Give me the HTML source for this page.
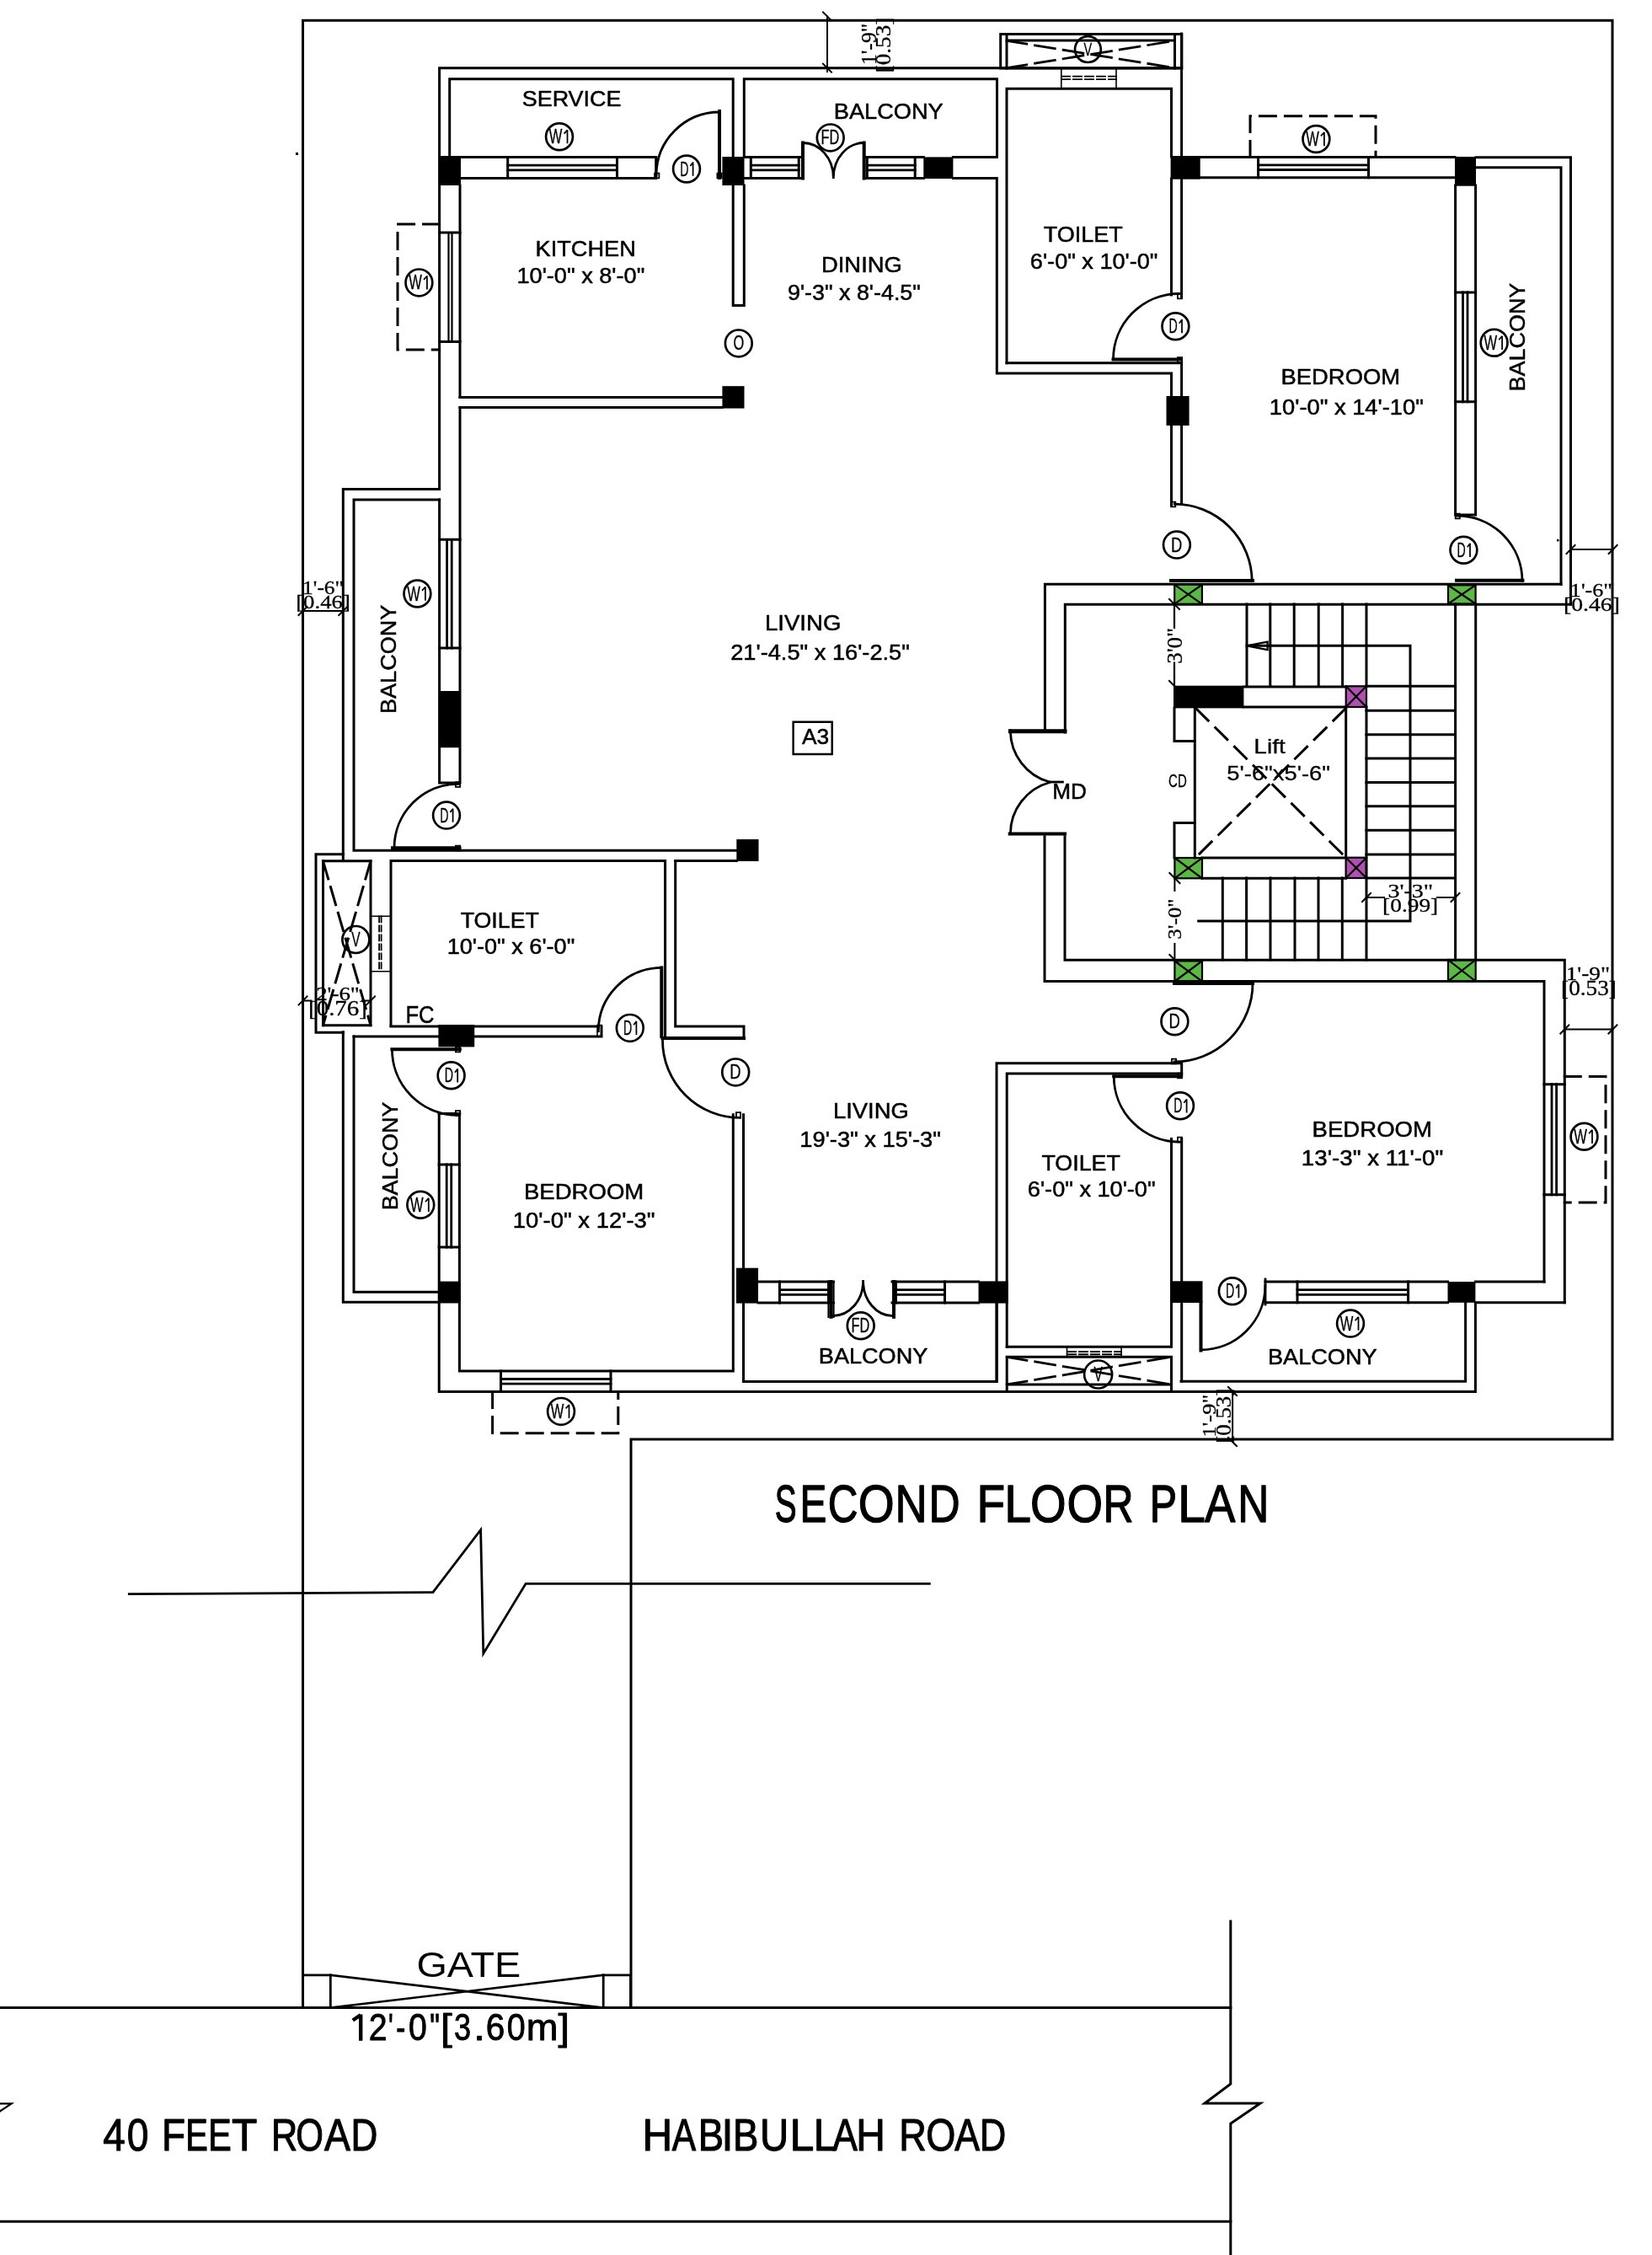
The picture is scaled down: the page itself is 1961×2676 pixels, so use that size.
<!DOCTYPE html>
<html><head><meta charset="utf-8"><style>
html,body{margin:0;padding:0;background:#fff;}
svg{display:block;will-change:transform;}
</style></head><body>
<svg xmlns="http://www.w3.org/2000/svg" width="1961" height="2676" viewBox="0 0 1961 2676">
<rect width="1961" height="2676" fill="#fff"/>
<g fill="none" stroke="#000" stroke-linecap="square" stroke-linejoin="miter">
<path d="M359.5,2382.6V24.2H1914V1708H749V2382.6" stroke-width="3.0"/>
<path d="M0,2382.6H1460.8M0,2636.2H1460.8" stroke-width="3.0"/>
<path d="M1460.8,2280V2473L1430,2496H1496L1460.8,2520V2676" stroke-width="3.0"/>
<path d="M0,2496.3H13.6L0,2505.4" stroke-width="2.2"/>
<path d="M359.6,2343.8H392.3V2382.6H359.6Z" stroke-width="2.8"/>
<path d="M716.2,2343.8H748.5V2382.6H716.2Z" stroke-width="2.8"/>
<path d="M392.3,2343.8L716.2,2382.6M392.3,2382.6L716.2,2343.8" stroke-width="2.6"/>
<path d="M153.3,1891.7L513.9,1889.6L570.6,1815.5L573.8,1962.2L624.1,1879.3H1103.3" stroke-width="2.8"/>
<path d="M521.6,580.5V80.7H1402.6" stroke-width="3.0"/>
<path d="M1187.7,40.4H1402.8V80.9H1187.7Z" stroke-width="3.0"/>
<path d="M1195,40.4V80.9M1394.5,40.4V80.9M1195,48.1H1394.5" stroke-width="3.0"/>
<path d="M1195,48.4L1394.5,80.6M1195,80.6L1394.5,48.4" stroke-width="2.8" stroke-dasharray="24 10"/>
<circle cx="1291.4" cy="58.6" r="15.4" fill="none" stroke="#000" stroke-width="2.7"/>
<text x="1286.59" y="66.45" font-size="22.82" textLength="9.63" lengthAdjust="spacingAndGlyphs" font-family="&quot;Liberation Sans&quot;, sans-serif" fill="#000" stroke="#000" stroke-width="0.30" stroke-linejoin="round">V</text>
<path d="M1259.8,80.7V105.3M1325,80.7V105.3" stroke-width="1.6"/>
<path d="M1260,90.6H1325M1260,94.1H1325" stroke-width="1.9" stroke-dasharray="10 4"/>
<path d="M533.7,186.4V93.7H870.2V186.4" stroke-width="3.0"/>
<path d="M883.3,186.4V93.7H1183.5V186.4" stroke-width="3.0"/>
<path d="M870.2,220V362.5H883.3V220" stroke-width="3.0"/>
<path d="M547,186.4H778.7V211.4H547" stroke-width="3.0"/>
<path d="M602.7,186.4V211.4M732.5,186.4V211.4" stroke-width="3.0"/>
<path d="M602.7,196.2H732.5M602.7,201.9H732.5" stroke-width="2.8"/>
<path d="M777.1,205.7H782.4V211.3H777.1Z" stroke-width="1.8"/>
<path d="M854,132V211" stroke-width="4"/>
<path d="M854,133A75,75 0 0 0 779,208" stroke-width="2.8"/>
<path d="M851.4,205.7H856.6V211.3H851.4Z" stroke-width="1.8"/>
<circle cx="815" cy="200.5" r="15.9" fill="none" stroke="#000" stroke-width="2.7"/>
<text x="807.19" y="208.50" font-size="23.26" textLength="10.24" lengthAdjust="spacingAndGlyphs" font-family="&quot;Liberation Sans&quot;, sans-serif" fill="#000" stroke="#000" stroke-width="0.30" stroke-linejoin="round">D</text>
<path d="M822.60,192.35V208.65M822.60,192.65L819.40,196.95" stroke-width="1.75" stroke-linecap="butt"/>
<circle cx="664" cy="162.2" r="15.9" fill="none" stroke="#000" stroke-width="2.7"/>
<text x="651.78" y="170.20" font-size="23.26" textLength="15.63" lengthAdjust="spacingAndGlyphs" font-family="&quot;Liberation Sans&quot;, sans-serif" fill="#000" stroke="#000" stroke-width="0.30" stroke-linejoin="round">W</text>
<path d="M673.50,154.05V170.35M673.50,154.35L669.60,158.65" stroke-width="1.75" stroke-linecap="butt"/>
<path d="M883.5,186.4H953M883.5,211.4H953" stroke-width="3.0"/>
<path d="M891.3,186.4V211.4M948.2,186.4V211.4" stroke-width="3.0"/>
<path d="M891.3,196.2H948.2M891.3,201.9H948.2" stroke-width="2.8"/>
<path d="M953,169.5V211.4M1025.7,169.5V211.4" stroke-width="4"/>
<path d="M953,169.5A36.3,41.2 0 0 1 989.3,210.7M1025.7,169.5A36.4,41.2 0 0 0 989.3,210.7" stroke-width="2.8"/>
<path d="M1025.7,186.4H1096.3M1025.7,211.4H1096.3" stroke-width="3.0"/>
<path d="M1029.3,186.4V211.4M1086.2,186.4V211.4" stroke-width="3.0"/>
<path d="M1029.3,196.2H1086.2M1029.3,201.9H1086.2" stroke-width="2.8"/>
<path d="M1131.4,186.4H1183.5" stroke-width="3.0"/>
<path d="M1131.4,211.4H1183.3V443H1390.5V600" stroke-width="3.0"/>
<circle cx="985.7" cy="163.4" r="15.9" fill="none" stroke="#000" stroke-width="2.7"/>
<text x="974.56" y="171.40" font-size="23.26" textLength="21.72" lengthAdjust="spacingAndGlyphs" font-family="&quot;Liberation Sans&quot;, sans-serif" fill="#000" stroke="#000" stroke-width="0.30" stroke-linejoin="round">FD</text>
<path d="M1195,430.8V105.3H1390.5V186" stroke-width="3.0"/>
<path d="M1390.5,212V350M1402.6,212V353.5" stroke-width="3.0"/>
<path d="M1402.6,40V186" stroke-width="3.0"/>
<path d="M1195,430.8H1402.6V597" stroke-width="3.0"/>
<path d="M1321.5,426.5H1401.5" stroke-width="4"/>
<path d="M1321.5,426.5A78,78 0 0 1 1399.5,348.5" stroke-width="2.8"/>
<path d="M1397.9,348.7H1403.1V354.3H1397.9Z" stroke-width="1.8"/>
<path d="M1397.9,424.2H1403.1V429.8H1397.9Z" stroke-width="1.8"/>
<circle cx="1395.4" cy="387.2" r="15.9" fill="none" stroke="#000" stroke-width="2.7"/>
<text x="1387.59" y="395.20" font-size="23.26" textLength="10.24" lengthAdjust="spacingAndGlyphs" font-family="&quot;Liberation Sans&quot;, sans-serif" fill="#000" stroke="#000" stroke-width="0.30" stroke-linejoin="round">D</text>
<path d="M1403.00,379.05V395.35M1403.00,379.35L1399.80,383.65" stroke-width="1.75" stroke-linecap="butt"/>
<text x="1238.65" y="287.35" font-size="25.87" textLength="94.12" lengthAdjust="spacingAndGlyphs" font-family="&quot;Liberation Sans&quot;, sans-serif" fill="#000" stroke="#000" stroke-width="0.50" stroke-linejoin="round">TOILET</text>
<text x="1222.87" y="318.75" font-size="25.87" textLength="151.63" lengthAdjust="spacingAndGlyphs" font-family="&quot;Liberation Sans&quot;, sans-serif" fill="#000" stroke="#000" stroke-width="0.50" stroke-linejoin="round">6'-0&quot; x 10'-0&quot;</text>
<path d="M546,220V471.5" stroke-width="3.0"/>
<path d="M521.6,276H546M521.6,405.4H546" stroke-width="3.0"/>
<path d="M532.5,276V405.4M536.5,276V405.4" stroke-width="2.2"/>
<path d="M521.6,266H472V415.1H521.6" stroke-width="3" stroke-dasharray="19 11"/>
<circle cx="497.4" cy="335.4" r="15.9" fill="none" stroke="#000" stroke-width="2.7"/>
<text x="485.18" y="343.40" font-size="23.26" textLength="15.63" lengthAdjust="spacingAndGlyphs" font-family="&quot;Liberation Sans&quot;, sans-serif" fill="#000" stroke="#000" stroke-width="0.30" stroke-linejoin="round">W</text>
<path d="M506.90,327.25V343.55M506.90,327.55L503.00,331.85" stroke-width="1.75" stroke-linecap="butt"/>
<path d="M546,471.5H857.4M546,483.6H857.4" stroke-width="3.0"/>
<circle cx="876.8" cy="407.4" r="15.9" fill="none" stroke="#000" stroke-width="2.7"/>
<text x="870.42" y="415.40" font-size="23.26" textLength="12.76" lengthAdjust="spacingAndGlyphs" font-family="&quot;Liberation Sans&quot;, sans-serif" fill="#000" stroke="#000" stroke-width="0.30" stroke-linejoin="round">O</text>
<rect x="521.6" y="185" width="25.4" height="35" fill="#000" stroke="none"/>
<rect x="857.4" y="186" width="26.1" height="34" fill="#000" stroke="none"/>
<rect x="1096.3" y="186.4" width="35.1" height="25.6" fill="#000" stroke="none"/>
<rect x="1389.6" y="185" width="35.1" height="27.7" fill="#000" stroke="none"/>
<rect x="1727" y="186" width="25" height="34.7" fill="#000" stroke="none"/>
<rect x="857.4" y="458.2" width="26.1" height="26.4" fill="#000" stroke="none"/>
<rect x="1384.5" y="470" width="27.1" height="35" fill="#000" stroke="none"/>
<text x="619.73" y="125.75" font-size="25.87" textLength="117.77" lengthAdjust="spacingAndGlyphs" font-family="&quot;Liberation Sans&quot;, sans-serif" fill="#000" stroke="#000" stroke-width="0.50" stroke-linejoin="round">SERVICE</text>
<text x="989.82" y="141.35" font-size="25.87" textLength="129.93" lengthAdjust="spacingAndGlyphs" font-family="&quot;Liberation Sans&quot;, sans-serif" fill="#000" stroke="#000" stroke-width="0.50" stroke-linejoin="round">BALCONY</text>
<text x="635.62" y="304.15" font-size="25.87" textLength="119.24" lengthAdjust="spacingAndGlyphs" font-family="&quot;Liberation Sans&quot;, sans-serif" fill="#000" stroke="#000" stroke-width="0.50" stroke-linejoin="round">KITCHEN</text>
<text x="613.48" y="336.35" font-size="25.87" textLength="151.82" lengthAdjust="spacingAndGlyphs" font-family="&quot;Liberation Sans&quot;, sans-serif" fill="#000" stroke="#000" stroke-width="0.50" stroke-linejoin="round">10'-0&quot; x 8'-0&quot;</text>
<text x="975.00" y="322.75" font-size="25.87" textLength="95.79" lengthAdjust="spacingAndGlyphs" font-family="&quot;Liberation Sans&quot;, sans-serif" fill="#000" stroke="#000" stroke-width="0.50" stroke-linejoin="round">DINING</text>
<text x="934.99" y="355.75" font-size="25.87" textLength="157.90" lengthAdjust="spacingAndGlyphs" font-family="&quot;Liberation Sans&quot;, sans-serif" fill="#000" stroke="#000" stroke-width="0.50" stroke-linejoin="round">9'-3&quot; x 8'-4.5&quot;</text>
<path d="M1424.7,186.4H1727M1424.7,210.7H1727" stroke-width="3.0"/>
<path d="M1493.6,186.4V210.7M1624.5,186.4V210.7" stroke-width="3.0"/>
<path d="M1493.6,195.9H1624.5M1493.6,201.5H1624.5" stroke-width="2.8"/>
<path d="M1484,186.4V137.8H1633V186.4" stroke-width="3" stroke-dasharray="19 11"/>
<circle cx="1562.4" cy="165" r="15.9" fill="none" stroke="#000" stroke-width="2.7"/>
<text x="1550.18" y="173.00" font-size="23.26" textLength="15.63" lengthAdjust="spacingAndGlyphs" font-family="&quot;Liberation Sans&quot;, sans-serif" fill="#000" stroke="#000" stroke-width="0.30" stroke-linejoin="round">W</text>
<path d="M1571.90,156.85V173.15M1571.90,157.15L1568.00,161.45" stroke-width="1.75" stroke-linecap="butt"/>
<path d="M1752,186.7H1864.5V717" stroke-width="3.0"/>
<path d="M1752,198.7H1853V693.5" stroke-width="3.0"/>
<path d="M1727.6,220V611M1751.6,220V611H1727.6" stroke-width="3.0"/>
<path d="M1727.6,347H1751.6M1727.6,476.8H1751.6" stroke-width="3.0"/>
<path d="M1736.5,347V476.8M1742.0,347V476.8" stroke-width="2.8"/>
<circle cx="1773.6" cy="406.8" r="15.9" fill="none" stroke="#000" stroke-width="2.7"/>
<text x="1761.38" y="414.80" font-size="23.26" textLength="15.63" lengthAdjust="spacingAndGlyphs" font-family="&quot;Liberation Sans&quot;, sans-serif" fill="#000" stroke="#000" stroke-width="0.30" stroke-linejoin="round">W</text>
<path d="M1783.10,398.65V414.95M1783.10,398.95L1779.20,403.25" stroke-width="1.75" stroke-linecap="butt"/>
<text transform="translate(1809.75,462.35) rotate(-90)" x="-2.21" y="0" font-size="26.60" textLength="128.91" lengthAdjust="spacingAndGlyphs" font-family="&quot;Liberation Sans&quot;, sans-serif" fill="#000" stroke="#000" stroke-width="0.50" stroke-linejoin="round">BALCONY</text>
<text x="1520.61" y="456.35" font-size="25.87" textLength="141.39" lengthAdjust="spacingAndGlyphs" font-family="&quot;Liberation Sans&quot;, sans-serif" fill="#000" stroke="#000" stroke-width="0.50" stroke-linejoin="round">BEDROOM</text>
<text x="1506.87" y="491.75" font-size="25.87" textLength="183.04" lengthAdjust="spacingAndGlyphs" font-family="&quot;Liberation Sans&quot;, sans-serif" fill="#000" stroke="#000" stroke-width="0.50" stroke-linejoin="round">10'-0&quot; x 14'-10&quot;</text>
<path d="M1727.7,609.7H1732.8V615.3H1727.7Z" stroke-width="1.8"/>
<path d="M1729,688.8H1807.4" stroke-width="4"/>
<path d="M1729.5,612A77.5,77.5 0 0 1 1807,689.5" stroke-width="2.8"/>
<circle cx="1737.4" cy="652.8" r="15.9" fill="none" stroke="#000" stroke-width="2.7"/>
<text x="1729.59" y="660.80" font-size="23.26" textLength="10.24" lengthAdjust="spacingAndGlyphs" font-family="&quot;Liberation Sans&quot;, sans-serif" fill="#000" stroke="#000" stroke-width="0.30" stroke-linejoin="round">D</text>
<path d="M1745.00,644.65V660.95M1745.00,644.95L1741.80,649.25" stroke-width="1.75" stroke-linecap="butt"/>
<path d="M1864.5,651.9H1914.6" stroke-width="2"/>
<path d="M1859.5,657L1869.5,647M1909.6,657L1919.6,647" stroke-width="2"/>
<text x="1863.86" y="707.85" font-size="23.98" textLength="50.11" lengthAdjust="spacingAndGlyphs" font-family="&quot;Liberation Serif&quot;, serif" fill="#000" stroke="#000" stroke-width="0.30" stroke-linejoin="round">1'-6&quot;</text>
<text x="1856.10" y="724.85" font-size="23.98" textLength="66.80" lengthAdjust="spacingAndGlyphs" font-family="&quot;Liberation Serif&quot;, serif" fill="#000" stroke="#000" stroke-width="0.30" stroke-linejoin="round">[0.46]</text>
<path d="M1264.3,868.9V717.2H1864.5" stroke-width="3.0"/>
<path d="M1240.4,867V693.3H1853" stroke-width="3.0"/>
<path d="M1390.2,595.7H1395.3V601.3H1390.2Z" stroke-width="1.8"/>
<path d="M1390,689H1487" stroke-width="4"/>
<path d="M1394.2,598.2A92,92 0 0 1 1486.2,689.6" stroke-width="2.8"/>
<circle cx="1396.9" cy="646.6" r="15.9" fill="none" stroke="#000" stroke-width="2.7"/>
<text x="1389.94" y="654.60" font-size="23.26" textLength="13.29" lengthAdjust="spacingAndGlyphs" font-family="&quot;Liberation Sans&quot;, sans-serif" fill="#000" stroke="#000" stroke-width="0.30" stroke-linejoin="round">D</text>
<rect x="1394.2" y="693.8" width="32.7" height="23.0" fill="#5cb946" stroke="#000" stroke-width="2.2"/>
<path d="M1394.2,693.8L1426.9,716.8M1426.9,693.8L1394.2,716.8" stroke-width="2.2"/>
<rect x="1719" y="694.4" width="32.6" height="22.1" fill="#5cb946" stroke="#000" stroke-width="2.2"/>
<path d="M1719,694.4L1751.6,716.5M1751.6,694.4L1719,716.5" stroke-width="2.2"/>
<rect x="1394.4" y="1018" width="32.6" height="24.3" fill="#5cb946" stroke="#000" stroke-width="2.2"/>
<path d="M1394.4,1018L1427,1042.3M1427,1018L1394.4,1042.3" stroke-width="2.2"/>
<rect x="1394.4" y="1140.4" width="32.6" height="24.2" fill="#5cb946" stroke="#000" stroke-width="2.2"/>
<path d="M1394.4,1140.4L1427,1164.6M1427,1140.4L1394.4,1164.6" stroke-width="2.2"/>
<rect x="1719" y="1139" width="32.7" height="25.5" fill="#5cb946" stroke="#000" stroke-width="2.2"/>
<path d="M1719,1139L1751.7,1164.5M1751.7,1139L1719,1164.5" stroke-width="2.2"/>
<rect x="1597.7" y="814.3" width="24.3" height="24.7" fill="#b050b0" stroke="#000" stroke-width="2.2"/>
<path d="M1597.7,814.3L1622,839M1622,814.3L1597.7,839" stroke-width="2.2"/>
<rect x="1597.6" y="1017.7" width="24.4" height="24.3" fill="#b050b0" stroke="#000" stroke-width="2.2"/>
<path d="M1597.6,1017.7L1622,1042M1622,1017.7L1597.6,1042" stroke-width="2.2"/>
<path d="M1199.4,867.8H1264" stroke-width="5"/>
<path d="M1198.7,989.5H1264" stroke-width="4"/>
<path d="M1199.4,867A63.3,63.3 0 0 0 1245.9,928M1245.9,928.5A63.3,63.3 0 0 0 1199.4,989.5" stroke-width="2.8"/>
<path d="M1245.9,928H1261.4" stroke-width="2.8"/>
<text x="1249.30" y="948.35" font-size="25.15" textLength="40.70" lengthAdjust="spacingAndGlyphs" font-family="&quot;Liberation Sans&quot;, sans-serif" fill="#000" stroke="#000" stroke-width="0.50" stroke-linejoin="round">MD</text>
<path d="M1240,992.7V1164.6H1833V1521" stroke-width="3.0"/>
<path d="M1264,992.7V1139.2H1857.3V1545.8" stroke-width="3.0"/>
<path d="M1480,717L1480,814.3" stroke-width="3.0"/>
<path d="M1507.8,717L1507.8,814.3" stroke-width="3.0"/>
<path d="M1536.2,717L1536.2,814.3" stroke-width="3.0"/>
<path d="M1565.2,717L1565.2,814.3" stroke-width="3.0"/>
<path d="M1593.6,717L1593.6,814.3" stroke-width="3.0"/>
<path d="M1622,717L1622,814.3" stroke-width="3.0"/>
<path d="M1480,766.3H1674V1093H1422.7" stroke-width="3.0"/>
<path d="M1480,766.3L1504.6,761.6V771.2Z" stroke-width="2.2"/>
<rect x="1393" y="813.7" width="83.4" height="26.7" fill="#000" stroke="none"/>
<path d="M1476.4,815H1597.7M1476.4,839H1597.7" stroke-width="3.0"/>
<path d="M1622,814.3H1727.6" stroke-width="3.0"/>
<path d="M1597.7,839V1017.7M1622,839V1139" stroke-width="3.0"/>
<path d="M1622,843.3L1727.5,843.3" stroke-width="3.0"/>
<path d="M1622,871.7L1727.5,871.7" stroke-width="3.0"/>
<path d="M1622,900L1727.5,900" stroke-width="3.0"/>
<path d="M1622,928.4L1727.5,928.4" stroke-width="3.0"/>
<path d="M1622,956.8L1727.5,956.8" stroke-width="3.0"/>
<path d="M1622,985.3L1727.5,985.3" stroke-width="3.0"/>
<path d="M1622,1014L1727.5,1014" stroke-width="3.0"/>
<path d="M1622,1042L1727.5,1042" stroke-width="3.0"/>
<path d="M1727.6,717V1139M1751.7,717V1139" stroke-width="3.0"/>
<path d="M1418.3,840V1018" stroke-width="3.0"/>
<path d="M1394,840V879.5H1418.3" stroke-width="3.0"/>
<path d="M1394,1018V976.4H1418.3" stroke-width="3.0"/>
<path d="M1427,1018H1597.6M1427,1042.3H1597.6" stroke-width="3.0"/>
<path d="M1420,841L1597,1017M1597,841L1420,1017" stroke-width="3" stroke-dasharray="20 12"/>
<text x="1488.34" y="893.55" font-size="24.27" textLength="37.51" lengthAdjust="spacingAndGlyphs" font-family="&quot;Liberation Sans&quot;, sans-serif" fill="#000" stroke="#000" stroke-width="0.30" stroke-linejoin="round">Lift</text>
<text x="1456.35" y="926.05" font-size="24.27" textLength="122.66" lengthAdjust="spacingAndGlyphs" font-family="&quot;Liberation Sans&quot;, sans-serif" fill="#000" stroke="#000" stroke-width="0.30" stroke-linejoin="round">5'-6&quot;x5'-6&quot;</text>
<text x="1387.09" y="933.85" font-size="21.37" textLength="21.68" lengthAdjust="spacingAndGlyphs" font-family="&quot;Liberation Sans&quot;, sans-serif" fill="#000" stroke="#000" stroke-width="0.30" stroke-linejoin="round">CD</text>
<path d="M1451.3,1042L1451.3,1139" stroke-width="3.0"/>
<path d="M1479.6,1042L1479.6,1139" stroke-width="3.0"/>
<path d="M1508,1042L1508,1139" stroke-width="3.0"/>
<path d="M1537,1042L1537,1139" stroke-width="3.0"/>
<path d="M1565,1042L1565,1139" stroke-width="3.0"/>
<path d="M1593.3,1042L1593.3,1139" stroke-width="3.0"/>
<path d="M1394,717V745M1394,786.5V813.7" stroke-width="2.2"/>
<path d="M1388,711L1400,723M1388,808L1400,820" stroke-width="2"/>
<text transform="translate(1403.25,786.45) rotate(-90)" x="-1.29" y="0" font-size="25.66" textLength="42.86" lengthAdjust="spacingAndGlyphs" font-family="&quot;Liberation Serif&quot;, serif" fill="#000" stroke="#000" stroke-width="0.30" stroke-linejoin="round">3'0&quot;</text>
<path d="M1394.4,1042V1057M1394.4,1120V1139" stroke-width="2"/>
<path d="M1388.4,1036L1400.4,1048M1388.4,1133L1400.4,1145" stroke-width="2"/>
<text transform="translate(1401.65,1113.55) rotate(-90)" x="-1.20" y="0" font-size="22.14" textLength="48.15" lengthAdjust="spacingAndGlyphs" font-family="&quot;Liberation Serif&quot;, serif" fill="#000" stroke="#000" stroke-width="0.30" stroke-linejoin="round">3'-0&quot;</text>
<path d="M1622,1065H1643M1706,1065H1727.5" stroke-width="2"/>
<path d="M1617,1070L1627,1060M1722.5,1070L1732.5,1060" stroke-width="2"/>
<text x="1647.41" y="1064.85" font-size="23.52" textLength="53.77" lengthAdjust="spacingAndGlyphs" font-family="&quot;Liberation Serif&quot;, serif" fill="#000" stroke="#000" stroke-width="0.30" stroke-linejoin="round">3'-3&quot;</text>
<text x="1641.12" y="1082.35" font-size="23.98" textLength="66.06" lengthAdjust="spacingAndGlyphs" font-family="&quot;Liberation Serif&quot;, serif" fill="#000" stroke="#000" stroke-width="0.30" stroke-linejoin="round">[0.99]</text>
<path d="M1394,1167H1487" stroke-width="4"/>
<path d="M1487,1167A93,93 0 0 1 1394,1260" stroke-width="2.8"/>
<path d="M1390.9,1256.7H1396.1V1262.3H1390.9Z" stroke-width="1.8"/>
<circle cx="1394.4" cy="1212.3" r="15.9" fill="none" stroke="#000" stroke-width="2.7"/>
<text x="1387.44" y="1220.30" font-size="23.26" textLength="13.29" lengthAdjust="spacingAndGlyphs" font-family="&quot;Liberation Sans&quot;, sans-serif" fill="#000" stroke="#000" stroke-width="0.30" stroke-linejoin="round">D</text>
<path d="M521.6,580.5H407.3V1021.3" stroke-width="3.0"/>
<path d="M521.6,593H420V1009.2H874.3" stroke-width="3.0"/>
<path d="M521.6,593V929H546V483.6" stroke-width="3.0"/>
<path d="M521.6,640.3H546M521.6,769H546" stroke-width="3.0"/>
<path d="M530.6,640.3V769M536.2,640.3V769" stroke-width="2.8"/>
<rect x="521.6" y="820" width="25.4" height="67.2" fill="#000" stroke="none"/>
<circle cx="495.4" cy="704.5" r="15.9" fill="none" stroke="#000" stroke-width="2.7"/>
<text x="483.18" y="712.50" font-size="23.26" textLength="15.63" lengthAdjust="spacingAndGlyphs" font-family="&quot;Liberation Sans&quot;, sans-serif" fill="#000" stroke="#000" stroke-width="0.30" stroke-linejoin="round">W</text>
<path d="M504.90,696.35V712.65M504.90,696.65L501.00,700.95" stroke-width="1.75" stroke-linecap="butt"/>
<text transform="translate(469.55,844.75) rotate(-90)" x="-2.22" y="0" font-size="26.16" textLength="129.21" lengthAdjust="spacingAndGlyphs" font-family="&quot;Liberation Sans&quot;, sans-serif" fill="#000" stroke="#000" stroke-width="0.50" stroke-linejoin="round">BALCONY</text>
<path d="M466,1006.3H545.5" stroke-width="4"/>
<path d="M544,930.3A76,76 0 0 0 468,1006.3" stroke-width="2.8"/>
<path d="M540.9,928.2H546.1V933.8H540.9Z" stroke-width="1.8"/>
<path d="M540.9,1003.7H546.1V1009.3H540.9Z" stroke-width="1.8"/>
<circle cx="530" cy="967.6" r="15.9" fill="none" stroke="#000" stroke-width="2.7"/>
<text x="522.19" y="975.60" font-size="23.26" textLength="10.24" lengthAdjust="spacingAndGlyphs" font-family="&quot;Liberation Sans&quot;, sans-serif" fill="#000" stroke="#000" stroke-width="0.30" stroke-linejoin="round">D</text>
<path d="M537.60,959.45V975.75M537.60,959.75L534.40,964.05" stroke-width="1.75" stroke-linecap="butt"/>
<path d="M359.5,725H407.3" stroke-width="2"/>
<path d="M354.5,730L364.5,720M402.3,730L412.3,720" stroke-width="2"/>
<text x="359.12" y="705.15" font-size="23.98" textLength="48.81" lengthAdjust="spacingAndGlyphs" font-family="&quot;Liberation Serif&quot;, serif" fill="#000" stroke="#000" stroke-width="0.30" stroke-linejoin="round">1'-6&quot;</text>
<text x="351.16" y="721.85" font-size="23.98" textLength="64.67" lengthAdjust="spacingAndGlyphs" font-family="&quot;Liberation Serif&quot;, serif" fill="#000" stroke="#000" stroke-width="0.30" stroke-linejoin="round">[0.46]</text>
<rect x="874.3" y="996" width="26.2" height="26" fill="#000" stroke="none"/>
<path d="M464,1217.3V1021.4H789.6V1230" stroke-width="3.0"/>
<path d="M801.7,1021.4H874.3" stroke-width="3.0"/>
<path d="M801.7,1021.4V1218H883V1232" stroke-width="3.0"/>
<text x="907.99" y="748.25" font-size="25.87" textLength="90.42" lengthAdjust="spacingAndGlyphs" font-family="&quot;Liberation Sans&quot;, sans-serif" fill="#000" stroke="#000" stroke-width="0.50" stroke-linejoin="round">LIVING</text>
<text x="867.18" y="782.85" font-size="25.87" textLength="212.72" lengthAdjust="spacingAndGlyphs" font-family="&quot;Liberation Sans&quot;, sans-serif" fill="#000" stroke="#000" stroke-width="0.50" stroke-linejoin="round">21'-4.5&quot; x 16'-2.5&quot;</text>
<path d="M941.6,856.7H987.7V895H941.6Z" stroke-width="2.4"/>
<text x="952.00" y="882.65" font-size="25.87" textLength="32.21" lengthAdjust="spacingAndGlyphs" font-family="&quot;Liberation Sans&quot;, sans-serif" fill="#000" stroke="#000" stroke-width="0.50" stroke-linejoin="round">A3</text>
<path d="M407.5,1013.8H375V1225.2H407.5" stroke-width="3.0"/>
<path d="M383.5,1021.8H440V1216.7H383.5Z" stroke-width="3.0"/>
<path d="M383.5,1021.8L440,1216.7M440,1021.8L383.5,1216.7" stroke-width="3" stroke-dasharray="22 10"/>
<circle cx="422.4" cy="1115" r="16" fill="none" stroke="#000" stroke-width="2.7"/>
<text x="417.23" y="1123.00" font-size="23.26" textLength="10.34" lengthAdjust="spacingAndGlyphs" font-family="&quot;Liberation Sans&quot;, sans-serif" fill="#000" stroke="#000" stroke-width="0.30" stroke-linejoin="round">V</text>
<path d="M440,1087.3H463.4M440,1152.8H463.4" stroke-width="1.6"/>
<path d="M450.1,1087.3V1152.8M452.6,1087.3V1152.8" stroke-width="1.8" stroke-dasharray="7 4"/>
<path d="M359.6,1187.4H369.5M430,1187.4H440" stroke-width="2"/>
<path d="M354.6,1192.4L364.6,1182.4M435,1192.4L445,1182.4" stroke-width="2"/>
<text x="375.17" y="1186.55" font-size="23.67" textLength="51.65" lengthAdjust="spacingAndGlyphs" font-family="&quot;Liberation Serif&quot;, serif" fill="#000" stroke="#000" stroke-width="0.30" stroke-linejoin="round">2'-6&quot;</text>
<text x="366.00" y="1204.55" font-size="24.74" textLength="70.00" lengthAdjust="spacingAndGlyphs" font-family="&quot;Liberation Serif&quot;, serif" fill="#000" stroke="#000" stroke-width="0.30" stroke-linejoin="round">[0.76]</text>
<text x="546.65" y="1100.55" font-size="25.87" textLength="93.21" lengthAdjust="spacingAndGlyphs" font-family="&quot;Liberation Sans&quot;, sans-serif" fill="#000" stroke="#000" stroke-width="0.50" stroke-linejoin="round">TOILET</text>
<text x="530.69" y="1132.05" font-size="25.87" textLength="151.62" lengthAdjust="spacingAndGlyphs" font-family="&quot;Liberation Sans&quot;, sans-serif" fill="#000" stroke="#000" stroke-width="0.50" stroke-linejoin="round">10'-0&quot; x 6'-0&quot;</text>
<path d="M464,1218H710.5M420,1230H714V1218" stroke-width="3.0"/>
<path d="M785.3,1148.4V1230" stroke-width="4"/>
<path d="M785.3,1148.4A75,75 0 0 0 710.3,1223.5" stroke-width="2.8"/>
<path d="M709,1216.5H714V1230H709Z" stroke-width="1.6"/>
<circle cx="747.8" cy="1219.9" r="15.9" fill="none" stroke="#000" stroke-width="2.7"/>
<text x="739.99" y="1227.90" font-size="23.26" textLength="10.24" lengthAdjust="spacingAndGlyphs" font-family="&quot;Liberation Sans&quot;, sans-serif" fill="#000" stroke="#000" stroke-width="0.30" stroke-linejoin="round">D</text>
<path d="M755.40,1211.75V1228.05M755.40,1212.05L752.20,1216.35" stroke-width="1.75" stroke-linecap="butt"/>
<path d="M786.5,1232H883" stroke-width="4"/>
<path d="M786.5,1234.4A92,92 0 0 0 878.5,1326.4" stroke-width="2.8"/>
<path d="M873.9,1320.2H879.1V1325.8H873.9Z" stroke-width="1.8"/>
<circle cx="873.2" cy="1272.4" r="15.9" fill="none" stroke="#000" stroke-width="2.7"/>
<text x="866.24" y="1280.40" font-size="23.26" textLength="13.29" lengthAdjust="spacingAndGlyphs" font-family="&quot;Liberation Sans&quot;, sans-serif" fill="#000" stroke="#000" stroke-width="0.30" stroke-linejoin="round">D</text>
<rect x="520.4" y="1216" width="42.8" height="26.4" fill="#000" stroke="none"/>
<text x="481.45" y="1214.05" font-size="29.80" textLength="34.07" lengthAdjust="spacingAndGlyphs" font-family="&quot;Liberation Sans&quot;, sans-serif" fill="#000" stroke="#000" stroke-width="0.50" stroke-linejoin="round">FC</text>
<path d="M407.3,1224.7V1545.3H521.2" stroke-width="3.0"/>
<path d="M420,1230V1533.2H521.2" stroke-width="3.0"/>
<path d="M521.2,1321.5V1651.4H1751.4V1545.8" stroke-width="3.0"/>
<path d="M545.4,1321.5V1627H870.3V1322.8" stroke-width="3.0"/>
<path d="M521.2,1321.5H545.8" stroke-width="3.0"/>
<path d="M521.2,1382H545.4M521.2,1480H545.4" stroke-width="3.0"/>
<path d="M530.2,1382V1480M535.7,1382V1480" stroke-width="2.8"/>
<rect x="521" y="1520.6" width="25.6" height="25.9" fill="#000" stroke="none"/>
<circle cx="499.3" cy="1429.8" r="15.9" fill="none" stroke="#000" stroke-width="2.7"/>
<text x="487.08" y="1437.80" font-size="23.26" textLength="15.63" lengthAdjust="spacingAndGlyphs" font-family="&quot;Liberation Sans&quot;, sans-serif" fill="#000" stroke="#000" stroke-width="0.30" stroke-linejoin="round">W</text>
<path d="M508.80,1421.65V1437.95M508.80,1421.95L504.90,1426.25" stroke-width="1.75" stroke-linecap="butt"/>
<text transform="translate(471.65,1434.15) rotate(-90)" x="-2.21" y="0" font-size="26.31" textLength="128.70" lengthAdjust="spacingAndGlyphs" font-family="&quot;Liberation Sans&quot;, sans-serif" fill="#000" stroke="#000" stroke-width="0.50" stroke-linejoin="round">BALCONY</text>
<path d="M465.4,1245.3H545.8" stroke-width="4"/>
<path d="M465.4,1245.3A78,78 0 0 0 543.4,1323.3" stroke-width="2.8"/>
<path d="M540.9,1318.2H546.1V1323.8H540.9Z" stroke-width="1.8"/>
<path d="M540.9,1242.7H546.1V1248.3H540.9Z" stroke-width="1.8"/>
<circle cx="535.6" cy="1276.3" r="15.9" fill="none" stroke="#000" stroke-width="2.7"/>
<text x="527.79" y="1284.30" font-size="23.26" textLength="10.24" lengthAdjust="spacingAndGlyphs" font-family="&quot;Liberation Sans&quot;, sans-serif" fill="#000" stroke="#000" stroke-width="0.30" stroke-linejoin="round">D</text>
<path d="M543.20,1268.15V1284.45M543.20,1268.45L540.00,1272.75" stroke-width="1.75" stroke-linecap="butt"/>
<text x="621.99" y="1422.95" font-size="25.87" textLength="142.32" lengthAdjust="spacingAndGlyphs" font-family="&quot;Liberation Sans&quot;, sans-serif" fill="#000" stroke="#000" stroke-width="0.50" stroke-linejoin="round">BEDROOM</text>
<text x="608.86" y="1456.75" font-size="25.87" textLength="168.65" lengthAdjust="spacingAndGlyphs" font-family="&quot;Liberation Sans&quot;, sans-serif" fill="#000" stroke="#000" stroke-width="0.50" stroke-linejoin="round">10'-0&quot; x 12'-3&quot;</text>
<path d="M594.5,1627V1651.4M725,1627V1651.4" stroke-width="3.0"/>
<path d="M594.5,1636.5H725M594.5,1642.1H725" stroke-width="2.8"/>
<path d="M584.6,1651.4V1700.8H733.8V1651.4" stroke-width="3" stroke-dasharray="19 11"/>
<circle cx="666" cy="1674.9" r="15.9" fill="none" stroke="#000" stroke-width="2.7"/>
<text x="653.78" y="1682.90" font-size="23.26" textLength="15.63" lengthAdjust="spacingAndGlyphs" font-family="&quot;Liberation Sans&quot;, sans-serif" fill="#000" stroke="#000" stroke-width="0.30" stroke-linejoin="round">W</text>
<path d="M675.50,1666.75V1683.05M675.50,1667.05L671.60,1671.35" stroke-width="1.75" stroke-linecap="butt"/>
<path d="M882.5,1322.8V1639.6H1183.2V1546" stroke-width="3.0"/>
<rect x="874" y="1504.7" width="26" height="41.9" fill="#000" stroke="none"/>
<path d="M900,1521H989.5M900,1545.9H989.5" stroke-width="3.0"/>
<path d="M925.4,1521V1545.9M983.5,1521V1545.9" stroke-width="3.0"/>
<path d="M925.4,1530.7H983.5M925.4,1536.4H983.5" stroke-width="2.8"/>
<path d="M983.5,1521V1562.8M989.5,1521V1562.8" stroke-width="2.2"/>
<path d="M986.5,1521V1562.8" stroke-width="4"/>
<path d="M988.3,1561.6A36.3,41.2 0 0 0 1024.6,1520.4M1059.8,1561.6A35.2,41.2 0 0 1 1024.6,1520.4" stroke-width="2.8"/>
<path d="M1061,1521V1562.8" stroke-width="4"/>
<path d="M1059,1521H1161.5M1059,1545.9H1161.5" stroke-width="3.0"/>
<path d="M1063.4,1521V1545.9M1121.5,1521V1545.9" stroke-width="3.0"/>
<path d="M1063.4,1530.7H1121.5M1063.4,1536.4H1121.5" stroke-width="2.8"/>
<rect x="1161.5" y="1520.4" width="35.1" height="26.2" fill="#000" stroke="none"/>
<circle cx="1021.7" cy="1573.2" r="15.9" fill="none" stroke="#000" stroke-width="2.7"/>
<text x="1010.56" y="1581.20" font-size="23.26" textLength="21.72" lengthAdjust="spacingAndGlyphs" font-family="&quot;Liberation Sans&quot;, sans-serif" fill="#000" stroke="#000" stroke-width="0.30" stroke-linejoin="round">FD</text>
<text x="971.83" y="1617.55" font-size="25.87" textLength="129.52" lengthAdjust="spacingAndGlyphs" font-family="&quot;Liberation Sans&quot;, sans-serif" fill="#000" stroke="#000" stroke-width="0.50" stroke-linejoin="round">BALCONY</text>
<text x="989.00" y="1327.35" font-size="25.87" textLength="89.79" lengthAdjust="spacingAndGlyphs" font-family="&quot;Liberation Sans&quot;, sans-serif" fill="#000" stroke="#000" stroke-width="0.50" stroke-linejoin="round">LIVING</text>
<text x="949.38" y="1361.25" font-size="25.87" textLength="167.53" lengthAdjust="spacingAndGlyphs" font-family="&quot;Liberation Sans&quot;, sans-serif" fill="#000" stroke="#000" stroke-width="0.50" stroke-linejoin="round">19'-3&quot; x 15'-3&quot;</text>
<path d="M1183,1639V1261.8H1402.7V1277" stroke-width="3.0"/>
<path d="M1195.2,1598.2V1273.9H1402.7" stroke-width="3.0"/>
<path d="M1195.2,1598.2H1390.5V1351.4M1402.7,1351.4V1639" stroke-width="3.0"/>
<path d="M1322.2,1277.2H1402" stroke-width="4"/>
<path d="M1322.2,1277.2A78,78 0 0 0 1400.2,1355.2" stroke-width="2.8"/>
<path d="M1397.9,1349.7H1403.1V1355.3H1397.9Z" stroke-width="1.8"/>
<path d="M1397.9,1273.7H1403.1V1279.3H1397.9Z" stroke-width="1.8"/>
<circle cx="1401" cy="1312.3" r="15.9" fill="none" stroke="#000" stroke-width="2.7"/>
<text x="1393.19" y="1320.30" font-size="23.26" textLength="10.24" lengthAdjust="spacingAndGlyphs" font-family="&quot;Liberation Sans&quot;, sans-serif" fill="#000" stroke="#000" stroke-width="0.30" stroke-linejoin="round">D</text>
<path d="M1408.60,1304.15V1320.45M1408.60,1304.45L1405.40,1308.75" stroke-width="1.75" stroke-linecap="butt"/>
<text x="1236.45" y="1388.75" font-size="25.87" textLength="93.41" lengthAdjust="spacingAndGlyphs" font-family="&quot;Liberation Sans&quot;, sans-serif" fill="#000" stroke="#000" stroke-width="0.50" stroke-linejoin="round">TOILET</text>
<text x="1219.87" y="1420.15" font-size="25.87" textLength="151.73" lengthAdjust="spacingAndGlyphs" font-family="&quot;Liberation Sans&quot;, sans-serif" fill="#000" stroke="#000" stroke-width="0.50" stroke-linejoin="round">6'-0&quot; x 10'-0&quot;</text>
<rect x="1390.5" y="1520.3" width="37.0" height="25.7" fill="#000" stroke="none"/>
<path d="M1195.2,1649.5V1610.3H1390.5V1649.5M1195.2,1643H1390.5" stroke-width="3.0"/>
<path d="M1195.2,1610.3L1390.5,1643M1195.2,1643L1390.5,1610.3" stroke-width="2.8" stroke-dasharray="24 10"/>
<circle cx="1303.6" cy="1631" r="16.5" fill="none" stroke="#000" stroke-width="2.7"/>
<text x="1298.43" y="1639.00" font-size="23.26" textLength="10.34" lengthAdjust="spacingAndGlyphs" font-family="&quot;Liberation Sans&quot;, sans-serif" fill="#000" stroke="#000" stroke-width="0.30" stroke-linejoin="round">V</text>
<path d="M1266.5,1599.7V1608.2M1331.1,1599.7V1608.2" stroke-width="1.6"/>
<path d="M1267,1604H1331M1267,1607.2H1331" stroke-width="1.9" stroke-dasharray="10 4"/>
<path d="M1463.1,1651.2V1711" stroke-width="2"/>
<path d="M1458,1646L1468,1656M1458,1706L1468,1716" stroke-width="2"/>
<text transform="translate(1443.45,1703.35) rotate(-90)" x="-2.33" y="0" font-size="23.67" textLength="50.87" lengthAdjust="spacingAndGlyphs" font-family="&quot;Liberation Serif&quot;, serif" fill="#000" stroke="#000" stroke-width="0.30" stroke-linejoin="round">1'-9&quot;</text>
<text transform="translate(1461.35,1710.85) rotate(-90)" x="-2.00" y="0" font-size="24.59" textLength="65.21" lengthAdjust="spacingAndGlyphs" font-family="&quot;Liberation Serif&quot;, serif" fill="#000" stroke="#000" stroke-width="0.30" stroke-linejoin="round">[0.53]</text>
<path d="M1502,1521H1718.5M1502,1545.8H1718.5" stroke-width="3.0"/>
<path d="M1502,1518V1548" stroke-width="2.8"/>
<path d="M1540,1521V1545.8M1671.6,1521V1545.8" stroke-width="3.0"/>
<path d="M1540,1530.7H1671.6M1540,1536.4H1671.6" stroke-width="2.8"/>
<rect x="1718.5" y="1521" width="32.9" height="24.8" fill="#000" stroke="none"/>
<path d="M1751.4,1521H1833M1751.4,1545.8H1857.3" stroke-width="3.0"/>
<path d="M1833,1286.7H1857.3M1833,1417.8H1857.3" stroke-width="3.0"/>
<path d="M1842.0,1286.7V1417.8M1847.6,1286.7V1417.8" stroke-width="2.8"/>
<path d="M1857.3,1277.5H1906V1427H1857.3" stroke-width="3" stroke-dasharray="19 11"/>
<circle cx="1880.5" cy="1348.8" r="15.9" fill="none" stroke="#000" stroke-width="2.7"/>
<text x="1868.28" y="1356.80" font-size="23.26" textLength="15.63" lengthAdjust="spacingAndGlyphs" font-family="&quot;Liberation Sans&quot;, sans-serif" fill="#000" stroke="#000" stroke-width="0.30" stroke-linejoin="round">W</text>
<path d="M1890.00,1340.65V1356.95M1890.00,1340.95L1886.10,1345.25" stroke-width="1.75" stroke-linecap="butt"/>
<text x="1557.59" y="1349.25" font-size="25.87" textLength="142.42" lengthAdjust="spacingAndGlyphs" font-family="&quot;Liberation Sans&quot;, sans-serif" fill="#000" stroke="#000" stroke-width="0.50" stroke-linejoin="round">BEDROOM</text>
<text x="1544.86" y="1383.25" font-size="25.87" textLength="168.45" lengthAdjust="spacingAndGlyphs" font-family="&quot;Liberation Sans&quot;, sans-serif" fill="#000" stroke="#000" stroke-width="0.50" stroke-linejoin="round">13'-3&quot; x 11'-0&quot;</text>
<path d="M1425.5,1546V1602.5" stroke-width="4"/>
<path d="M1425.5,1601.8A76.4,76.4 0 0 0 1501.9,1525.4" stroke-width="2.8"/>
<circle cx="1462.8" cy="1532.2" r="15.9" fill="none" stroke="#000" stroke-width="2.7"/>
<text x="1454.99" y="1540.20" font-size="23.26" textLength="10.24" lengthAdjust="spacingAndGlyphs" font-family="&quot;Liberation Sans&quot;, sans-serif" fill="#000" stroke="#000" stroke-width="0.30" stroke-linejoin="round">D</text>
<path d="M1470.40,1524.05V1540.35M1470.40,1524.35L1467.20,1528.65" stroke-width="1.75" stroke-linecap="butt"/>
<path d="M1402,1639.2H1739.6V1545.8" stroke-width="3.0"/>
<circle cx="1603" cy="1570.6" r="15.9" fill="none" stroke="#000" stroke-width="2.7"/>
<text x="1590.78" y="1578.60" font-size="23.26" textLength="15.63" lengthAdjust="spacingAndGlyphs" font-family="&quot;Liberation Sans&quot;, sans-serif" fill="#000" stroke="#000" stroke-width="0.30" stroke-linejoin="round">W</text>
<path d="M1612.50,1562.45V1578.75M1612.50,1562.75L1608.60,1567.05" stroke-width="1.75" stroke-linecap="butt"/>
<text x="1505.03" y="1618.55" font-size="25.87" textLength="129.62" lengthAdjust="spacingAndGlyphs" font-family="&quot;Liberation Sans&quot;, sans-serif" fill="#000" stroke="#000" stroke-width="0.50" stroke-linejoin="round">BALCONY</text>
<path d="M1857.3,1221.5H1914.4" stroke-width="2"/>
<path d="M1852.3,1226.5L1862.3,1216.5M1909.4,1226.5L1919.4,1216.5" stroke-width="2"/>
<text x="1858.76" y="1163.05" font-size="23.98" textLength="52.28" lengthAdjust="spacingAndGlyphs" font-family="&quot;Liberation Serif&quot;, serif" fill="#000" stroke="#000" stroke-width="0.30" stroke-linejoin="round">1'-9&quot;</text>
<text x="1853.13" y="1180.55" font-size="24.44" textLength="65.74" lengthAdjust="spacingAndGlyphs" font-family="&quot;Liberation Serif&quot;, serif" fill="#000" stroke="#000" stroke-width="0.30" stroke-linejoin="round">[0.53]</text>
<path d="M982,19.4V85" stroke-width="2"/>
<path d="M977,14.4L987,24.4M977,75.7L987,85.7" stroke-width="2"/>
<text transform="translate(1039.65,74.85) rotate(-90)" x="-2.26" y="0" font-size="24.74" textLength="49.35" lengthAdjust="spacingAndGlyphs" font-family="&quot;Liberation Serif&quot;, serif" fill="#000" stroke="#000" stroke-width="0.30" stroke-linejoin="round">1'-9&quot;</text>
<text transform="translate(1056.75,84.35) rotate(-90)" x="-2.02" y="0" font-size="25.05" textLength="65.74" lengthAdjust="spacingAndGlyphs" font-family="&quot;Liberation Serif&quot;, serif" fill="#000" stroke="#000" stroke-width="0.30" stroke-linejoin="round">[0.53]</text>
<rect x="351" y="181" width="3" height="3" fill="#000" stroke="none"/>
<rect x="1848" y="640" width="2.5" height="2.5" fill="#000" stroke="none"/>
<text x="919.79" y="1806.05" font-size="63.52" textLength="25.84" lengthAdjust="spacingAndGlyphs" font-family="&quot;Liberation Sans&quot;, sans-serif" fill="#000" stroke="#000" stroke-width="1.30" stroke-linejoin="round">S</text>
<text x="949.43" y="1806.05" font-size="63.52" textLength="31.87" lengthAdjust="spacingAndGlyphs" font-family="&quot;Liberation Sans&quot;, sans-serif" fill="#000" stroke="#000" stroke-width="1.30" stroke-linejoin="round">E</text>
<text x="982.64" y="1806.05" font-size="63.52" textLength="35.69" lengthAdjust="spacingAndGlyphs" font-family="&quot;Liberation Sans&quot;, sans-serif" fill="#000" stroke="#000" stroke-width="1.30" stroke-linejoin="round">C</text>
<text x="1018.83" y="1806.05" font-size="63.52" textLength="42.96" lengthAdjust="spacingAndGlyphs" font-family="&quot;Liberation Sans&quot;, sans-serif" fill="#000" stroke="#000" stroke-width="1.30" stroke-linejoin="round">O</text>
<text x="1062.52" y="1806.05" font-size="63.52" textLength="38.14" lengthAdjust="spacingAndGlyphs" font-family="&quot;Liberation Sans&quot;, sans-serif" fill="#000" stroke="#000" stroke-width="1.30" stroke-linejoin="round">N</text>
<text x="1102.53" y="1806.05" font-size="63.52" textLength="37.19" lengthAdjust="spacingAndGlyphs" font-family="&quot;Liberation Sans&quot;, sans-serif" fill="#000" stroke="#000" stroke-width="1.30" stroke-linejoin="round">D</text>
<text x="1159.44" y="1806.05" font-size="63.52" textLength="33.62" lengthAdjust="spacingAndGlyphs" font-family="&quot;Liberation Sans&quot;, sans-serif" fill="#000" stroke="#000" stroke-width="1.30" stroke-linejoin="round">F</text>
<text x="1192.36" y="1806.05" font-size="63.52" textLength="31.79" lengthAdjust="spacingAndGlyphs" font-family="&quot;Liberation Sans&quot;, sans-serif" fill="#000" stroke="#000" stroke-width="1.30" stroke-linejoin="round">L</text>
<text x="1222.96" y="1806.05" font-size="63.52" textLength="42.62" lengthAdjust="spacingAndGlyphs" font-family="&quot;Liberation Sans&quot;, sans-serif" fill="#000" stroke="#000" stroke-width="1.30" stroke-linejoin="round">O</text>
<text x="1266.56" y="1806.05" font-size="63.52" textLength="42.62" lengthAdjust="spacingAndGlyphs" font-family="&quot;Liberation Sans&quot;, sans-serif" fill="#000" stroke="#000" stroke-width="1.30" stroke-linejoin="round">O</text>
<text x="1309.55" y="1806.05" font-size="63.52" textLength="36.12" lengthAdjust="spacingAndGlyphs" font-family="&quot;Liberation Sans&quot;, sans-serif" fill="#000" stroke="#000" stroke-width="1.30" stroke-linejoin="round">R</text>
<text x="1364.87" y="1806.05" font-size="63.52" textLength="32.33" lengthAdjust="spacingAndGlyphs" font-family="&quot;Liberation Sans&quot;, sans-serif" fill="#000" stroke="#000" stroke-width="1.30" stroke-linejoin="round">P</text>
<text x="1397.89" y="1806.05" font-size="63.52" textLength="32.92" lengthAdjust="spacingAndGlyphs" font-family="&quot;Liberation Sans&quot;, sans-serif" fill="#000" stroke="#000" stroke-width="1.30" stroke-linejoin="round">L</text>
<text x="1430.04" y="1806.05" font-size="63.52" textLength="36.41" lengthAdjust="spacingAndGlyphs" font-family="&quot;Liberation Sans&quot;, sans-serif" fill="#000" stroke="#000" stroke-width="1.30" stroke-linejoin="round">A</text>
<text x="1469.24" y="1806.05" font-size="63.52" textLength="37.10" lengthAdjust="spacingAndGlyphs" font-family="&quot;Liberation Sans&quot;, sans-serif" fill="#000" stroke="#000" stroke-width="1.30" stroke-linejoin="round">N</text>
<text x="494.41" y="2346.20" font-size="43.02" textLength="123.84" lengthAdjust="spacingAndGlyphs" font-family="&quot;Liberation Sans&quot;, sans-serif" fill="#000" stroke="none">GATE</text>
<path d="M428.2,2390.5V2421.8M428.2,2391L418.8,2397.5" stroke-width="4.4" stroke-linecap="butt"/>
<text x="437.87" y="2421.35" font-size="45.06" textLength="21.85" lengthAdjust="spacingAndGlyphs" font-family="&quot;Liberation Sans&quot;, sans-serif" fill="#000" stroke="#000" stroke-width="0.90" stroke-linejoin="round">2</text>
<text x="460.92" y="2421.35" font-size="45.06" textLength="5.74" lengthAdjust="spacingAndGlyphs" font-family="&quot;Liberation Sans&quot;, sans-serif" fill="#000" stroke="#000" stroke-width="0.90" stroke-linejoin="round">'</text>
<text x="470.28" y="2421.35" font-size="45.06" textLength="11.05" lengthAdjust="spacingAndGlyphs" font-family="&quot;Liberation Sans&quot;, sans-serif" fill="#000" stroke="#000" stroke-width="0.90" stroke-linejoin="round">-</text>
<text x="484.92" y="2421.35" font-size="45.06" textLength="21.76" lengthAdjust="spacingAndGlyphs" font-family="&quot;Liberation Sans&quot;, sans-serif" fill="#000" stroke="#000" stroke-width="0.90" stroke-linejoin="round">0</text>
<text x="510.35" y="2421.35" font-size="45.06" textLength="11.70" lengthAdjust="spacingAndGlyphs" font-family="&quot;Liberation Sans&quot;, sans-serif" fill="#000" stroke="#000" stroke-width="0.90" stroke-linejoin="round">&quot;</text>
<text x="522.93" y="2421.35" font-size="45.06" textLength="13.70" lengthAdjust="spacingAndGlyphs" font-family="&quot;Liberation Sans&quot;, sans-serif" fill="#000" stroke="#000" stroke-width="0.90" stroke-linejoin="round">[</text>
<text x="538.98" y="2421.35" font-size="45.06" textLength="20.06" lengthAdjust="spacingAndGlyphs" font-family="&quot;Liberation Sans&quot;, sans-serif" fill="#000" stroke="#000" stroke-width="0.90" stroke-linejoin="round">3</text>
<text x="561.95" y="2421.35" font-size="45.06" textLength="14.01" lengthAdjust="spacingAndGlyphs" font-family="&quot;Liberation Sans&quot;, sans-serif" fill="#000" stroke="#000" stroke-width="0.90" stroke-linejoin="round">.</text>
<text x="576.69" y="2421.35" font-size="45.06" textLength="22.54" lengthAdjust="spacingAndGlyphs" font-family="&quot;Liberation Sans&quot;, sans-serif" fill="#000" stroke="#000" stroke-width="0.90" stroke-linejoin="round">6</text>
<text x="601.71" y="2421.35" font-size="45.06" textLength="21.87" lengthAdjust="spacingAndGlyphs" font-family="&quot;Liberation Sans&quot;, sans-serif" fill="#000" stroke="#000" stroke-width="0.90" stroke-linejoin="round">0</text>
<text x="624.85" y="2421.35" font-size="45.06" textLength="37.69" lengthAdjust="spacingAndGlyphs" font-family="&quot;Liberation Sans&quot;, sans-serif" fill="#000" stroke="#000" stroke-width="0.90" stroke-linejoin="round">m</text>
<text x="662.57" y="2421.35" font-size="45.06" textLength="13.56" lengthAdjust="spacingAndGlyphs" font-family="&quot;Liberation Sans&quot;, sans-serif" fill="#000" stroke="#000" stroke-width="0.90" stroke-linejoin="round">]</text>
<text x="122.26" y="2552.15" font-size="53.05" textLength="26.49" lengthAdjust="spacingAndGlyphs" font-family="&quot;Liberation Sans&quot;, sans-serif" fill="#000" stroke="#000" stroke-width="1.10" stroke-linejoin="round">4</text>
<text x="150.75" y="2552.15" font-size="53.05" textLength="25.60" lengthAdjust="spacingAndGlyphs" font-family="&quot;Liberation Sans&quot;, sans-serif" fill="#000" stroke="#000" stroke-width="1.10" stroke-linejoin="round">0</text>
<text x="192.07" y="2552.15" font-size="53.05" textLength="28.12" lengthAdjust="spacingAndGlyphs" font-family="&quot;Liberation Sans&quot;, sans-serif" fill="#000" stroke="#000" stroke-width="1.10" stroke-linejoin="round">F</text>
<text x="220.28" y="2552.15" font-size="53.05" textLength="26.58" lengthAdjust="spacingAndGlyphs" font-family="&quot;Liberation Sans&quot;, sans-serif" fill="#000" stroke="#000" stroke-width="1.10" stroke-linejoin="round">E</text>
<text x="246.93" y="2552.15" font-size="53.05" textLength="27.81" lengthAdjust="spacingAndGlyphs" font-family="&quot;Liberation Sans&quot;, sans-serif" fill="#000" stroke="#000" stroke-width="1.10" stroke-linejoin="round">E</text>
<text x="274.93" y="2552.15" font-size="53.05" textLength="30.36" lengthAdjust="spacingAndGlyphs" font-family="&quot;Liberation Sans&quot;, sans-serif" fill="#000" stroke="#000" stroke-width="1.10" stroke-linejoin="round">T</text>
<text x="321.90" y="2552.15" font-size="53.05" textLength="31.26" lengthAdjust="spacingAndGlyphs" font-family="&quot;Liberation Sans&quot;, sans-serif" fill="#000" stroke="#000" stroke-width="1.10" stroke-linejoin="round">R</text>
<text x="351.26" y="2552.15" font-size="53.05" textLength="32.70" lengthAdjust="spacingAndGlyphs" font-family="&quot;Liberation Sans&quot;, sans-serif" fill="#000" stroke="#000" stroke-width="1.10" stroke-linejoin="round">O</text>
<text x="385.06" y="2552.15" font-size="53.05" textLength="30.98" lengthAdjust="spacingAndGlyphs" font-family="&quot;Liberation Sans&quot;, sans-serif" fill="#000" stroke="#000" stroke-width="1.10" stroke-linejoin="round">A</text>
<text x="416.54" y="2552.15" font-size="53.05" textLength="31.82" lengthAdjust="spacingAndGlyphs" font-family="&quot;Liberation Sans&quot;, sans-serif" fill="#000" stroke="#000" stroke-width="1.10" stroke-linejoin="round">D</text>
<text x="762.40" y="2552.15" font-size="53.05" textLength="35.68" lengthAdjust="spacingAndGlyphs" font-family="&quot;Liberation Sans&quot;, sans-serif" fill="#000" stroke="#000" stroke-width="1.10" stroke-linejoin="round">H</text>
<text x="797.77" y="2552.15" font-size="53.05" textLength="28.37" lengthAdjust="spacingAndGlyphs" font-family="&quot;Liberation Sans&quot;, sans-serif" fill="#000" stroke="#000" stroke-width="1.10" stroke-linejoin="round">A</text>
<text x="828.72" y="2552.15" font-size="53.05" textLength="30.33" lengthAdjust="spacingAndGlyphs" font-family="&quot;Liberation Sans&quot;, sans-serif" fill="#000" stroke="#000" stroke-width="1.10" stroke-linejoin="round">B</text>
<text x="856.60" y="2552.15" font-size="53.05" textLength="14.00" lengthAdjust="spacingAndGlyphs" font-family="&quot;Liberation Sans&quot;, sans-serif" fill="#000" stroke="#000" stroke-width="1.10" stroke-linejoin="round">I</text>
<text x="870.02" y="2552.15" font-size="53.05" textLength="30.33" lengthAdjust="spacingAndGlyphs" font-family="&quot;Liberation Sans&quot;, sans-serif" fill="#000" stroke="#000" stroke-width="1.10" stroke-linejoin="round">B</text>
<text x="902.00" y="2552.15" font-size="53.05" textLength="34.21" lengthAdjust="spacingAndGlyphs" font-family="&quot;Liberation Sans&quot;, sans-serif" fill="#000" stroke="#000" stroke-width="1.10" stroke-linejoin="round">U</text>
<text x="937.39" y="2552.15" font-size="53.05" textLength="28.88" lengthAdjust="spacingAndGlyphs" font-family="&quot;Liberation Sans&quot;, sans-serif" fill="#000" stroke="#000" stroke-width="1.10" stroke-linejoin="round">L</text>
<text x="965.65" y="2552.15" font-size="53.05" textLength="27.12" lengthAdjust="spacingAndGlyphs" font-family="&quot;Liberation Sans&quot;, sans-serif" fill="#000" stroke="#000" stroke-width="1.10" stroke-linejoin="round">L</text>
<text x="988.16" y="2552.15" font-size="53.05" textLength="29.67" lengthAdjust="spacingAndGlyphs" font-family="&quot;Liberation Sans&quot;, sans-serif" fill="#000" stroke="#000" stroke-width="1.10" stroke-linejoin="round">A</text>
<text x="1016.31" y="2552.15" font-size="53.05" textLength="34.65" lengthAdjust="spacingAndGlyphs" font-family="&quot;Liberation Sans&quot;, sans-serif" fill="#000" stroke="#000" stroke-width="1.10" stroke-linejoin="round">H</text>
<text x="1067.15" y="2552.15" font-size="53.05" textLength="32.60" lengthAdjust="spacingAndGlyphs" font-family="&quot;Liberation Sans&quot;, sans-serif" fill="#000" stroke="#000" stroke-width="1.10" stroke-linejoin="round">R</text>
<text x="1099.31" y="2552.15" font-size="53.05" textLength="35.10" lengthAdjust="spacingAndGlyphs" font-family="&quot;Liberation Sans&quot;, sans-serif" fill="#000" stroke="#000" stroke-width="1.10" stroke-linejoin="round">O</text>
<text x="1133.26" y="2552.15" font-size="53.05" textLength="29.77" lengthAdjust="spacingAndGlyphs" font-family="&quot;Liberation Sans&quot;, sans-serif" fill="#000" stroke="#000" stroke-width="1.10" stroke-linejoin="round">A</text>
<text x="1163.10" y="2552.15" font-size="53.05" textLength="31.21" lengthAdjust="spacingAndGlyphs" font-family="&quot;Liberation Sans&quot;, sans-serif" fill="#000" stroke="#000" stroke-width="1.10" stroke-linejoin="round">D</text>
</g>
</svg>
</body></html>
